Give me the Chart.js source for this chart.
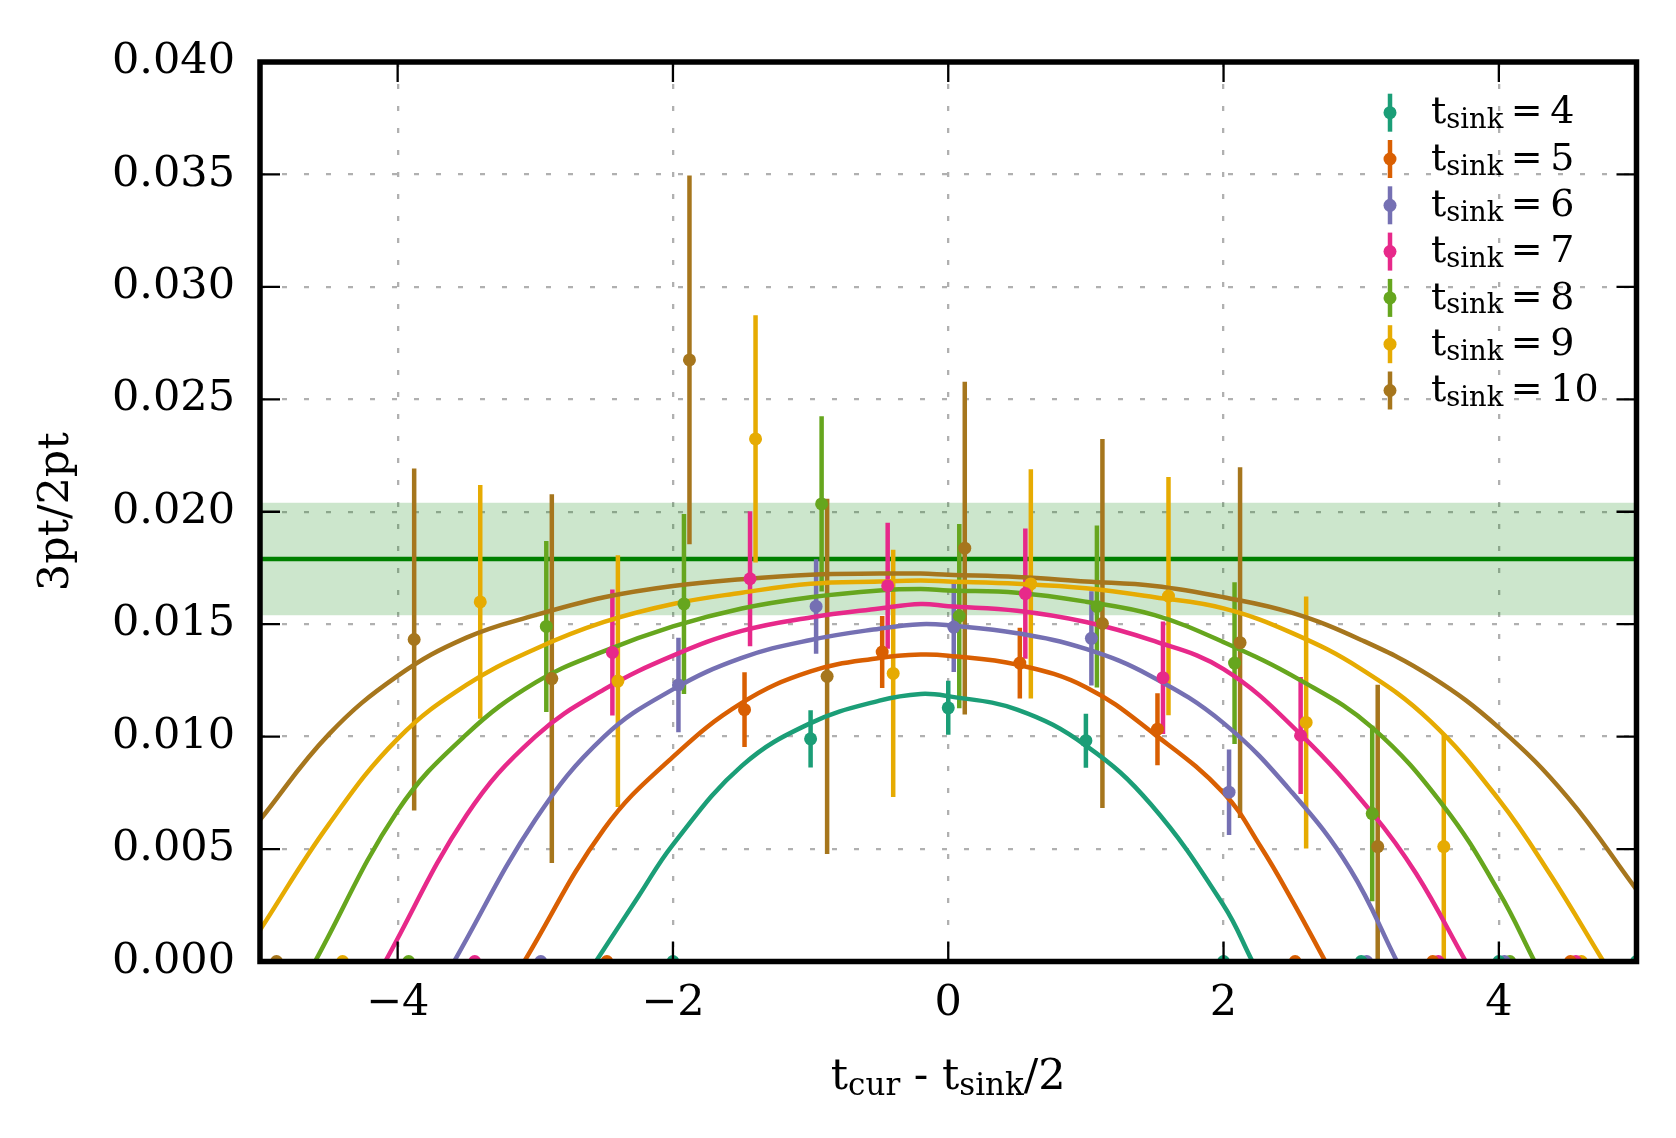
<!DOCTYPE html>
<html>
<head>
<meta charset="utf-8">
<script src="https://cdn.jsdelivr.net/npm/chart.js@4.4.1/dist/chart.umd.min.js"></script>
<style>
  html, body { margin: 0; padding: 0; background: #fff; }
  canvas { display: block; }
</style>
</head>
<body>
<canvas id="ratioChart" width="1676" height="1138"></canvas>
<script>
// ratio 3pt/2pt per t_sink, indexed by t_cur
const tSinks = [4, 5, 6, 7, 8, 9, 10];
const colors = ['#1b9e77', '#d95f02', '#7570b3', '#e7298a', '#66a61e', '#e6ab02', '#a6761d'];
const xShift = [0, 0.02, 0.04, 0.06, 0.08, 0.10, 0.12];

const ratio4 = [0, 0.0099, 0.01128, 0.00982, 0, 0, 0, 0];
const err4 = [0, 0.00127, 0.0012, 0.0012, 0, 0, 0, 0];
const ratio5 = [0, 0.0112, 0.01376, 0.01327, 0.01033, 0, 0, 0];
const err5 = [0, 0.00166, 0.0016, 0.00157, 0.0016, 0, 0, 0];
const ratio6 = [0, 0.0123, 0.01579, 0.01487, 0.01437, 0.00753, 0, 0];
const err6 = [0, 0.0021, 0.0021, 0.002, 0.0021, 0.0019, 0, 0];
const ratio7 = [0, 0.01374, 0.01702, 0.01671, 0.01636, 0.01262, 0.01005, 0, 0];
const err7 = [0, 0.0028, 0.003, 0.0028, 0.0029, 0.0025, 0.0026, 0, 0];
const ratio8 = [0, 0.0149, 0.0159, 0.02035, 0.01536, 0.01579, 0.01327, 0.00658, 0];
const err8 = [0, 0.0038, 0.004, 0.0039, 0.0041, 0.0036, 0.0036, 0.0039, 0];
const ratio9 = [0, 0.01599, 0.01247, 0.02324, 0.01281, 0.01679, 0.01625, 0.01063, 0.00511, 0];
const err9 = [0, 0.0052, 0.0056, 0.0055, 0.0055, 0.0051, 0.0053, 0.0056, 0.005, 0];
const ratio10 = [0, 0.01432, 0.01258, 0.02675, 0.01268, 0.01838, 0.01503, 0.01418, 0.00511];
const err10 = [0, 0.0076, 0.0082, 0.0082, 0.0079, 0.0074, 0.0082, 0.0078, 0.0072];

// fit curves, [x, value]
const fit4 = [[-2.56, 0], [-2.25, 0.0029], [-2, 0.0052], [-1.5, 0.0087], [-1, 0.0106], [-0.5, 0.0116], [-0.2, 0.0119], [0, 0.0118], [0.5, 0.0112], [1, 0.0096], [1.47, 0.0070], [2, 0.0025], [2.21, 0]];
const fit5 = [[-3.08, 0], [-2.5, 0.0059], [-2, 0.0091], [-1.5, 0.0115], [-1, 0.0129], [-0.5, 0.0135], [-0.2, 0.01365], [0, 0.0136], [0.5, 0.0132], [1, 0.0122], [1.5, 0.0101], [2, 0.0075], [2.27, 0.0051], [2.5, 0.0027], [2.74, 0]];
const fit6 = [[-3.59, 0], [-3, 0.0063], [-2.5, 0.0100], [-2, 0.0121], [-1.5, 0.0135], [-1, 0.0143], [-0.5, 0.0148], [-0.2, 0.0150], [0, 0.01495], [0.5, 0.0146], [1, 0.0139], [1.47, 0.0127], [2, 0.0106], [2.5, 0.0075], [2.92, 0.0041], [3.26, 0]];
const fit7 = [[-4.09, 0], [-3.5, 0.0065], [-3, 0.0100], [-2.5, 0.0121], [-2, 0.0136], [-1.5, 0.0147], [-1, 0.0153], [-0.5, 0.0157], [-0.2, 0.0159], [0, 0.0158], [0.5, 0.0156], [1, 0.0151], [1.47, 0.0143], [2, 0.0130], [2.56, 0.0101], [3.08, 0.0066], [3.4, 0.0039], [3.76, 0]];
const fit8 = [[-4.6, 0], [-4, 0.0067], [-3.5, 0.0101], [-3, 0.0124], [-2.5, 0.0138], [-2, 0.0149], [-1.5, 0.0157], [-1, 0.0162], [-0.5, 0.0165], [-0.2, 0.01656], [0, 0.0165], [0.5, 0.0164], [1, 0.0160], [1.5, 0.0154], [2, 0.0142], [2.56, 0.0125], [3.08, 0.0104], [3.6, 0.0069], [4, 0.0031], [4.26, 0]];
const fit9 = [[-5, 0.0014], [-4.5, 0.0061], [-4, 0.0099], [-3.5, 0.0123], [-3, 0.0139], [-2.5, 0.0151], [-2, 0.0159], [-1.5, 0.0164], [-1, 0.0168], [-0.5, 0.0169], [-0.2, 0.01694], [0, 0.0169], [0.5, 0.0168], [1, 0.0166], [1.5, 0.0162], [2, 0.0157], [2.5, 0.0146], [3, 0.0130], [3.5, 0.0107], [4, 0.0072], [4.37, 0.0039], [4.76, 0]];
const fit10 = [[-5, 0.0063], [-4.5, 0.0101], [-4, 0.0127], [-3.5, 0.0144], [-3, 0.0154], [-2.5, 0.0162], [-2, 0.0167], [-1.5, 0.0170], [-1, 0.0172], [-0.5, 0.01725], [-0.2, 0.01725], [0, 0.0172], [0.5, 0.0171], [1, 0.0169], [1.5, 0.0167], [2, 0.0162], [2.5, 0.0155], [3, 0.0143], [3.5, 0.0127], [4, 0.0104], [4.5, 0.0073], [5, 0.0032]];

// plateau fit and its band
const plateau = 0.0179;
const plateauLo = 0.0154;
const plateauHi = 0.0204;

const xRange = [-5, 5];
const yRange = [0, 0.04];
const xTickValues = [-4, -2, 0, 2, 4];
const yTickValues = [0, 0.005, 0.01, 0.015, 0.02, 0.025, 0.03, 0.035, 0.04];

const ratios = [ratio4, ratio5, ratio6, ratio7, ratio8, ratio9, ratio10];
const errs = [err4, err5, err6, err7, err8, err9, err10];
const fits = [fit4, fit5, fit6, fit7, fit8, fit9, fit10];

const FONT = 'DejaVu Serif';
Chart.defaults.font.family = FONT;
Chart.defaults.color = '#000';

const xOf = (k, i) => i - tSinks[k] / 2 + xShift[k];

const datasets = [];
datasets.push({
    data: xRange.map(x => ({x: x, y: plateauHi})),
    borderWidth: 0, pointRadius: 0,
    backgroundColor: 'rgba(0, 128, 0, 0.2)',
    fill: '+1', order: 20
});
datasets.push({
    data: xRange.map(x => ({x: x, y: plateauLo})),
    borderWidth: 0, pointRadius: 0, fill: false, order: 20
});
datasets.push({
    data: xRange.map(x => ({x: x, y: plateau})),
    borderColor: '#008000', borderWidth: 4.5, pointRadius: 0, fill: false, order: 19
});
fits.forEach((f, k) => {
    datasets.push({
        data: f.map(p => ({x: p[0], y: p[1]})),
        borderColor: colors[k], borderWidth: 4.5, pointRadius: 0,
        tension: 0.4, fill: false, order: 10
    });
});
ratios.forEach((r, k) => {
    datasets.push({
        data: r.map((v, i) => ({x: xOf(k, i), y: v})),
        showLine: false, pointRadius: 6.5, pointBorderWidth: 0,
        pointBackgroundColor: colors[k], order: 0
    });
});

// error bars, drawn right after the plateau line so the fit curves sit on top
const errorBars = {
    id: 'errorBars',
    afterDatasetDraw(chart, args) {
        if (args.index !== 2) return;
        const {ctx, chartArea: a, scales: {x, y}} = chart;
        ctx.save();
        ctx.beginPath();
        ctx.rect(a.left, a.top, a.right - a.left, a.bottom - a.top);
        ctx.clip();
        ctx.lineWidth = 4.5;
        ratios.forEach((r, k) => {
            ctx.strokeStyle = colors[k];
            r.forEach((v, i) => {
                const e = errs[k][i];
                if (!e) return;
                const px = x.getPixelForValue(xOf(k, i));
                ctx.beginPath();
                ctx.moveTo(px, y.getPixelForValue(v - e));
                ctx.lineTo(px, y.getPixelForValue(v + e));
                ctx.stroke();
            });
        });
        ctx.restore();
    }
};

// box with inward ticks on all four sides
const frame = {
    id: 'frame',
    afterDatasetsDraw(chart) {
        const {ctx, chartArea: a, scales: {x, y}} = chart;
        const len = 20;
        ctx.save();
        ctx.strokeStyle = '#000';
        ctx.lineWidth = 2.3;
        ctx.beginPath();
        x.ticks.forEach(t => {
            const px = x.getPixelForValue(t.value);
            ctx.moveTo(px, a.bottom); ctx.lineTo(px, a.bottom - len);
            ctx.moveTo(px, a.top); ctx.lineTo(px, a.top + len);
        });
        y.ticks.forEach(t => {
            const py = y.getPixelForValue(t.value);
            ctx.moveTo(a.left, py); ctx.lineTo(a.left + len, py);
            ctx.moveTo(a.right, py); ctx.lineTo(a.right - len, py);
        });
        ctx.stroke();
        ctx.lineWidth = 5.5;
        ctx.strokeRect(a.left, a.top, a.right - a.left, a.bottom - a.top);
        ctx.restore();
    }
};

// draws text pieces, subscripts smaller and lower
function drawSubText(ctx, parts, x, y, size, align) {
    const sub = size * 0.72;
    const widths = parts.map(p => {
        ctx.font = (p[1] ? sub : size) + 'px "' + FONT + '"';
        return ctx.measureText(p[0]).width;
    });
    const total = widths.reduce((s, w) => s + w, 0);
    let cx = align === 'center' ? x - total / 2 : x;
    parts.forEach((p, i) => {
        ctx.font = (p[1] ? sub : size) + 'px "' + FONT + '"';
        ctx.fillText(p[0], cx, p[1] ? y + size * 0.13 : y);
        cx += widths[i];
    });
}

const labels = {
    id: 'labels',
    afterDraw(chart) {
        const {ctx, chartArea: a} = chart;
        ctx.save();
        ctx.fillStyle = '#000';
        ctx.textBaseline = 'alphabetic';
        ctx.textAlign = 'left';
        // x axis title
        drawSubText(ctx, [['t', 0], ['cur', 1], [' - ', 0], ['t', 0], ['sink', 1], ['/2', 0]],
            (a.left + a.right) / 2, 1089, 43, 'center');
        // legend
        tSinks.forEach((t, k) => {
            const cy = 112.7 + k * 46.3;
            const mx = 1390;
            ctx.strokeStyle = colors[k];
            ctx.lineWidth = 4.5;
            ctx.beginPath();
            ctx.moveTo(mx, cy - 19); ctx.lineTo(mx, cy + 19);
            ctx.stroke();
            ctx.fillStyle = colors[k];
            ctx.beginPath();
            ctx.arc(mx, cy, 6.5, 0, Math.PI * 2);
            ctx.fill();
            ctx.fillStyle = '#000';
            drawSubText(ctx, [['t', 0], ['sink', 1], ['\u2009=\u2009' + t, 0]], 1431, cy + 10.6, 38, 'left');
        });
        ctx.restore();
    }
};

const ratioChart = new Chart(document.getElementById('ratioChart'), {
    type: 'line',
    data: { datasets: datasets },
    options: {
        responsive: false,
        devicePixelRatio: 1,
        animation: false,
        layout: { padding: { top: 62, right: 39.5, left: 0, bottom: 0 } },
        plugins: {
            legend: { display: false },
            tooltip: { enabled: false }
        },
        scales: {
            x: {
                type: 'linear',
                min: xRange[0], max: xRange[1],
                afterBuildTicks: s => { s.ticks = xTickValues.map(v => ({value: v})); },
                afterFit: s => { s.height = 176.5; },
                ticks: {
                    padding: 17,
                    font: { size: 43 },
                    callback: v => (v < 0 ? '\u2212' + (-v) : String(v))
                },
                grid: { color: '#b0b0b0', lineWidth: 2.3, drawTicks: false },
                border: { display: false, dash: [5, 17] }
            },
            y: {
                type: 'linear',
                min: yRange[0], max: yRange[1],
                afterBuildTicks: s => { s.ticks = yTickValues.map(v => ({value: v})); },
                afterFit: s => { s.width = 260; },
                ticks: {
                    padding: 25,
                    font: { size: 43 },
                    callback: v => v.toFixed(3)
                },
                grid: { color: '#b0b0b0', lineWidth: 2.3, drawTicks: false },
                border: { display: false, dash: [5, 17] },
                title: {
                    display: true,
                    text: '3pt/2pt',
                    font: { size: 43 },
                    padding: { top: 31, bottom: 0 }
                }
            }
        }
    },
    plugins: [errorBars, frame, labels]
});
</script>
</body>
</html>
